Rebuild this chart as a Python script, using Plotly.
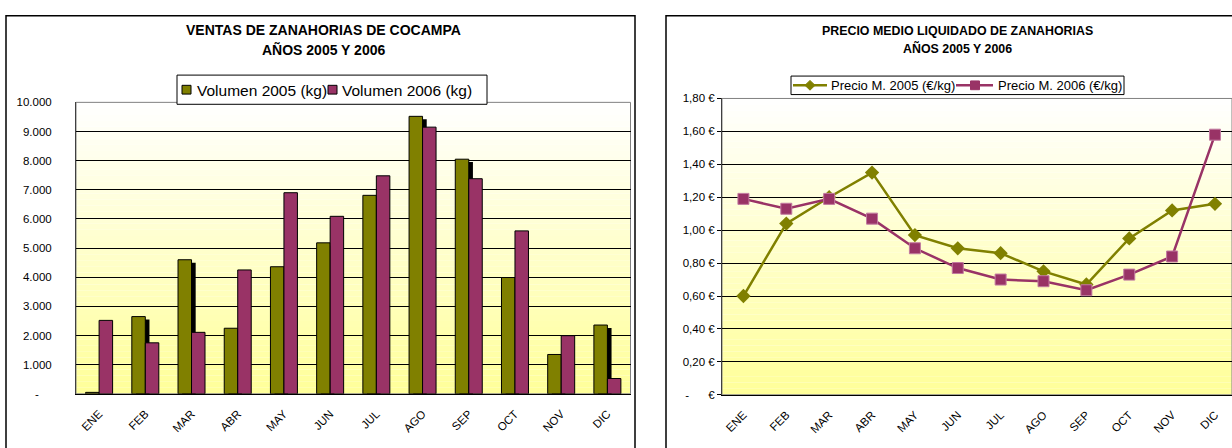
import plotly.graph_objects as go

# ---- data -------------------------------------------------------------
meses = ["ENE", "FEB", "MAR", "ABR", "MAY", "JUN",
         "JUL", "AGO", "SEP", "OCT", "NOV", "DIC"]

volumen_2005 = [50, 2650, 4600, 2250, 4360, 5180, 6810, 9520, 8050, 3990, 1350, 2360]
volumen_2006 = [2520, 1750, 2110, 4250, 6900, 6090, 7480, 9150, 7380, 5590, 1995, 525]

precio_2005 = [0.60, 1.04, 1.20, 1.35, 0.97, 0.89, 0.86, 0.75, 0.67, 0.95, 1.12, 1.16]
precio_2006 = [1.19, 1.13, 1.19, 1.07, 0.89, 0.77, 0.70, 0.69, 0.635, 0.73, 0.84, 1.58]

NBSP = "\u00a0"
vol_ticks = list(range(0, 10001, 1000))
vol_ticktext = ["-" + NBSP * 4] + [f"{v // 1000}.000" for v in vol_ticks[1:]]

precio_ticks = [0.0, 0.2, 0.4, 0.6, 0.8, 1.0, 1.2, 1.4, 1.6, 1.8]
precio_ticktext = ["-" + NBSP * 6 + "€"] + [f"{p:.2f}".replace(".", ",") + " €" for p in precio_ticks[1:]]

nombres_vol = ["Volumen 2005 (kg)", "Volumen 2006 (kg)"]
nombres_precio = ["Precio M. 2005 (€/kg)", "Precio M. 2006 (€/kg)"]

# category boundaries, where the short x tick marks go
limites = [i - 0.5 for i in range(len(meses) + 1)]

# ---- page geometry (pixels) -------------------------------------------
W, H = 1232, 448
FONT = "Liberation Sans, Arial, sans-serif"
OLIVE = "#808000"
PURPLE = "#993366"
CLEAR = "rgba(0,0,0,0)"


def px(x):
    return x / W


def py(y):
    return 1 - y / H


# bar geometry, in category units
BAR_W = 0.292
SHADOW_DX = 0.09

fig = go.Figure()

# drop shadow of the 2005 bars (drawn first so it sits behind both series)
fig.add_trace(go.Bar(
    x=meses, y=volumen_2005, base=-100, name="sombra",
    width=BAR_W, offset=-BAR_W + SHADOW_DX,
    marker=dict(color="black", line=dict(width=0)),
    xaxis="x", yaxis="y", showlegend=False, hoverinfo="skip",
))
fig.add_trace(go.Bar(
    x=meses, y=volumen_2005, name=nombres_vol[0],
    width=BAR_W, offset=-BAR_W,
    marker=dict(color=OLIVE, line=dict(color="black", width=1)),
    xaxis="x", yaxis="y", showlegend=False,
))
fig.add_trace(go.Bar(
    x=meses, y=volumen_2006, name=nombres_vol[1],
    width=BAR_W, offset=0,
    marker=dict(color=PURPLE, line=dict(color="black", width=1)),
    xaxis="x", yaxis="y", showlegend=False,
))

fig.add_trace(go.Scatter(
    x=meses, y=precio_2005, name=nombres_precio[0], mode="lines+markers",
    line=dict(color=OLIVE, width=2.5),
    marker=dict(symbol="diamond", size=11, color=OLIVE),
    xaxis="x2", yaxis="y2", showlegend=False,
))
fig.add_trace(go.Scatter(
    x=meses, y=precio_2006, name=nombres_precio[1], mode="lines+markers",
    line=dict(color=PURPLE, width=2.5),
    marker=dict(symbol="square", size=11, color=PURPLE,
                line=dict(color="#c27aa0", width=1)),
    xaxis="x2", yaxis="y2", showlegend=False,
))

# ---- background gradient (white at top to pale yellow at bottom) -------
shapes = []
N = 48
for ax in ("", "2"):
    for i in range(N):
        t = (i + 0.5) / N  # 0 at bottom, 1 at top
        b = int(round(153 + (255 - 153) * t))
        shapes.append(dict(
            type="rect", xref=f"x{ax} domain", yref=f"y{ax} domain",
            x0=0, x1=1, y0=i / N, y1=(i + 1) / N,
            fillcolor=f"rgb(255,255,{b})", line=dict(width=0), layer="below",
        ))
    # plot-area frame
    shapes.append(dict(
        type="rect", xref=f"x{ax} domain", yref=f"y{ax} domain",
        x0=0, x1=1, y0=0, y1=1, line=dict(color="#808080", width=1),
        layer="below",
    ))

# chart frames
shapes.append(dict(type="rect", xref="paper", yref="paper",
                   x0=px(6), x1=px(635), y0=py(470), y1=py(10),
                   line=dict(color="black", width=1.5)))
shapes.append(dict(type="rect", xref="paper", yref="paper",
                   x0=px(666), x1=px(1250), y0=py(470), y1=py(10),
                   line=dict(color="black", width=1.5)))


def rect_px(x0, y0, x1, y1, fill, line_color, lw=1):
    return dict(type="rect", xref="paper", yref="paper",
                x0=px(x0), x1=px(x1), y0=py(y1), y1=py(y0),
                fillcolor=fill, line=dict(color=line_color, width=lw))


def text_px(text, x, y, size, xanchor="left", bold=False):
    if bold:
        text = f"<b>{text}</b>"
    return dict(text=text, x=px(x), y=py(y), xref="paper", yref="paper",
                showarrow=False, xanchor=xanchor, yanchor="middle",
                font=dict(family=FONT, size=size, color="black"))


# ---- legend of the volume chart ----------------------------------------
shapes.append(rect_px(177, 71, 487, 101, "white", "black"))
shapes.append(rect_px(182, 81.5, 191, 90.5, OLIVE, "black"))
shapes.append(rect_px(328, 81.5, 337, 90.5, PURPLE, "black"))

# ---- legend of the price chart -----------------------------------------
shapes.append(rect_px(791, 72, 1124, 91, "white", "black"))
LY = 81.5
for (xa, xb, color) in ((793, 827, OLIVE), (956, 993, PURPLE)):
    shapes.append(dict(type="line", xref="paper", yref="paper",
                       x0=px(xa), x1=px(xb), y0=py(LY), y1=py(LY),
                       line=dict(color=color, width=2.5)))
cx = 810
shapes.append(dict(type="path", xref="paper", yref="paper",
                   path=(f"M {px(cx - 5)} {py(LY)} L {px(cx)} {py(LY - 5)} "
                         f"L {px(cx + 5)} {py(LY)} L {px(cx)} {py(LY + 5)} Z"),
                   fillcolor=OLIVE, line=dict(color=OLIVE, width=1)))
shapes.append(rect_px(970.5, LY - 4.5, 979.5, LY + 4.5, PURPLE, PURPLE))

annotations = [
    text_px("VENTAS DE ZANAHORIAS DE COCAMPA", 323, 25, 14, "center", True),
    text_px("AÑOS 2005 Y 2006", 323, 45, 14, "center", True),
    text_px("PRECIO MEDIO LIQUIDADO DE ZANAHORIAS", 957, 25.5, 12.4, "center", True),
    text_px("AÑOS 2005 Y 2006", 957, 43.5, 12.4, "center", True),
    text_px(nombres_vol[0], 195, 86.5, 15.5),
    text_px(nombres_vol[1], 340, 86.5, 15.5),
    text_px(nombres_precio[0], 829, LY, 13),
    text_px(nombres_precio[1], 996, LY, 13),
]

tickfont = dict(family=FONT, size=11.5, color="black")

LEFT_X = [px(76), px(630.5)]
LEFT_Y = [py(398.5), py(99)]
RIGHT_X = [px(722), 1.0]
RIGHT_Y = [py(399.5), py(95)]
RIGHT_XRANGE = [-0.5, 11.397]

# Labelled axes use invisible (clear) ticks as spacers; the overlaid axes
# below carry the short black tick marks.
fig.update_layout(
    width=W, height=H,
    margin=dict(l=0, r=0, t=0, b=0),
    paper_bgcolor="white",
    plot_bgcolor=CLEAR,
    barmode="overlay",
    shapes=shapes, annotations=annotations,
    showlegend=False,
    xaxis=dict(domain=LEFT_X, anchor="y",
               type="category", ticks="outside",
               ticklen=8, tickcolor=CLEAR, tickangle=-45, tickfont=tickfont,
               showline=True, linecolor="black", linewidth=1,
               showgrid=False, range=[-0.5, 11.5]),
    yaxis=dict(domain=LEFT_Y, anchor="x",
               range=[0, 10000], tickvals=vol_ticks, ticktext=vol_ticktext,
               ticks="outside", ticklen=21, tickcolor=CLEAR, tickfont=tickfont,
               showline=True, linecolor="#404040", linewidth=1,
               showgrid=True, gridcolor="black", gridwidth=1, zeroline=False),
    xaxis2=dict(domain=RIGHT_X, anchor="y2",
                type="category", ticks="outside",
                ticklen=8, tickcolor=CLEAR, tickangle=-45, tickfont=tickfont,
                showline=True, linecolor="black", linewidth=1,
                showgrid=False, range=RIGHT_XRANGE),
    yaxis2=dict(domain=RIGHT_Y, anchor="x2",
                range=[0, 1.8], tickvals=precio_ticks, ticktext=precio_ticktext,
                ticks="outside", ticklen=4, tickcolor="black", tickfont=tickfont,
                showline=True, linecolor="#404040", linewidth=1,
                showgrid=True, gridcolor="black", gridwidth=1, zeroline=False),
    # tick marks only
    xaxis3=dict(domain=LEFT_X, anchor="y", overlaying="x",
                range=[-0.5, 11.5], tickvals=limites, ticks="outside",
                ticklen=5, tickcolor="black", showticklabels=False,
                showgrid=False, zeroline=False, showline=False),
    yaxis3=dict(domain=LEFT_Y, anchor="x", overlaying="y",
                range=[0, 10000], tickvals=vol_ticks, ticks="outside",
                ticklen=4, tickcolor="black", showticklabels=False,
                showgrid=False, zeroline=False, showline=False),
    xaxis4=dict(domain=RIGHT_X, anchor="y2", overlaying="x2",
                range=RIGHT_XRANGE, tickvals=limites, ticks="outside",
                ticklen=5, tickcolor="black", showticklabels=False,
                showgrid=False, zeroline=False, showline=False),
)

fig.write_html("out.html", config={"displayModeBar": False})
